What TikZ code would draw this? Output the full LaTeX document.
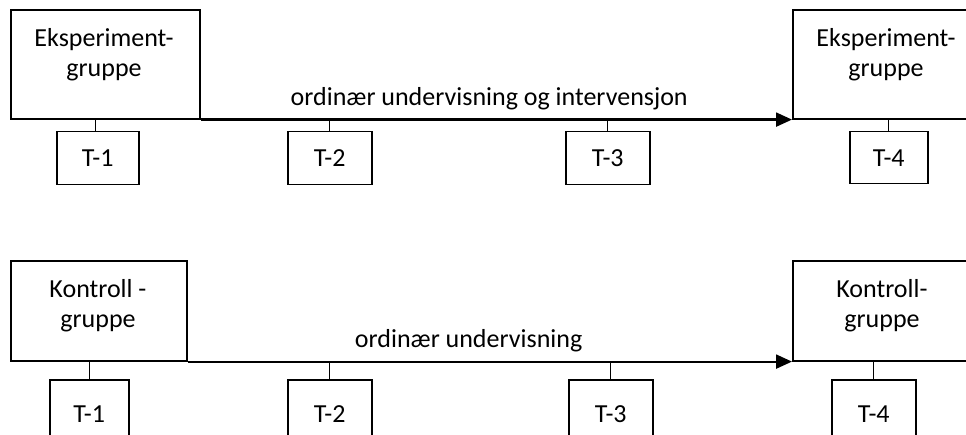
\documentclass[tikz,border=0pt]{standalone}
\usepackage{fontspec}
\setmainfont{Carlito}
\usetikzlibrary{arrows.meta}
\begin{document}
\begin{tikzpicture}[x=1pt,y=-1pt,
  font=\fontsize{26pt}{30pt}\selectfont,
  grp/.style={draw,line width=1.6pt,rectangle,inner sep=0pt,anchor=north west},
  tbox/.style={draw,line width=1.5pt,rectangle,inner sep=0pt,anchor=north west,minimum width=#1},
  lbl/.style={align=center,anchor=base,inner sep=0pt},
  flow/.style={line width=2.2pt,-{Triangle[length=16pt,width=14pt]}},
  tick/.style={line width=1.2pt}]
\useasboundingbox (0,0) rectangle (966,435);
\clip (0,0) rectangle (966,435);
% group boxes
\node[grp,minimum width=189pt,minimum height=109pt] (eg1) at (10,9) {};
\node[grp,minimum width=189pt,minimum height=109pt] (eg2) at (792,9) {};
\node[grp,minimum width=176pt,minimum height=100pt] (kg1) at (10,260) {};
\node[grp,minimum width=182pt,minimum height=100pt] (kg2) at (792,260) {};
\node[lbl] (eg1t) at (104,77) {Eksperiment-\\gruppe};
\node[lbl] (eg2t) at (886,77) {Eksperiment-\\gruppe};
\node[lbl] (kg1t) at (98,327.5) {Kontroll -\\gruppe};
\node[lbl] (kg2t) at (882,327.5) {Kontroll-\\gruppe};
% arrows
\draw[flow] (eg1.south east) -- (eg2.south west) node[pos=0.488,above=9pt,inner sep=0pt] (l1) {ordinær undervisning og intervensjon};
\draw[flow] (kg1.south east) -- (kg2.south west) node[pos=0.465,above=9pt,inner sep=0pt] (l2) {ordinær undervisning};
% test boxes top
\node[tbox=82pt,minimum height=53pt] (a1) at (56,131) {T-1};
\node[tbox=84pt,minimum height=53pt] (a2) at (287,131) {T-2};
\node[tbox=84pt,minimum height=53pt] (a3) at (565,131) {T-3};
\node[tbox=78pt,minimum height=52pt] (a4) at (849,131) {T-4};
\draw[tick] ([xshift=-2pt]a1.north) -- ([xshift=-2pt]a1.north |- eg1.south);
\draw[tick] (a2.north) -- (a2.north |- eg1.south);
\draw[tick] (a3.north) -- (a3.north |- eg1.south);
\draw[tick] (a4.north) -- (a4.north |- eg2.south);
% test boxes bottom
\node[tbox=79pt,minimum height=60pt] (b1) at (49,379) {};
\node[tbox=84pt,minimum height=60pt] (b2) at (287,379) {};
\node[tbox=84pt,minimum height=60pt] (b3) at (568,379) {};
\node[tbox=84pt,minimum height=60pt] (b4) at (831,379) {};
\node[anchor=center,inner sep=0pt] (b1t) at ([yshift=-4pt]b1) {T-1};
\node[anchor=center,inner sep=0pt] (b2t) at ([yshift=-4pt]b2) {T-2};
\node[anchor=center,inner sep=0pt] (b3t) at ([yshift=-4pt]b3) {T-3};
\node[anchor=center,inner sep=0pt] (b4t) at ([yshift=-4pt]b4) {T-4};
\draw[tick] (b1.north) -- (b1.north |- kg1.south);
\draw[tick] (b2.north) -- (b2.north |- kg1.south);
\draw[tick] (b3.north) -- (b3.north |- kg1.south);
\draw[tick] (b4.north) -- (b4.north |- kg2.south);
\end{tikzpicture}
\end{document}
